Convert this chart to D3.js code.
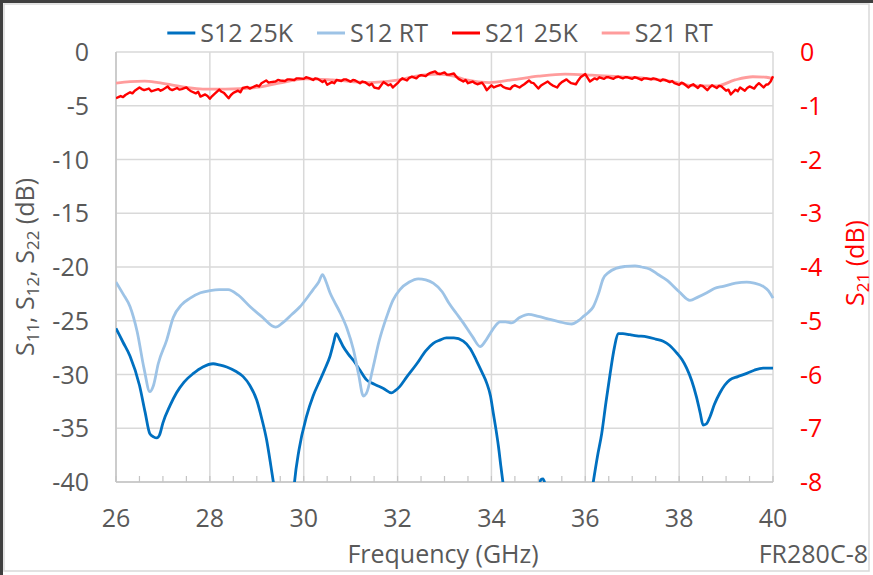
<!DOCTYPE html>
<html>
<head>
<meta charset="utf-8">
<script src="https://cdn.jsdelivr.net/npm/d3@7"></script>
<style>
  html, body { margin: 0; padding: 0; background: #ffffff; }
  svg { display: block; font-family: "Open Sans", "Noto Sans", sans-serif; }
</style>
</head>
<body>
<svg id="chart" width="873" height="575"></svg>
<script>
// ---- Data: [frequency GHz, dB] ----
const s12Cold = [
  [26.0,-25.7],[26.15,-27.0],[26.3,-28.3],[26.5,-31.0],[26.62,-33.5],[26.72,-35.5],[26.8,-35.8],
  [26.87,-35.9],[26.93,-35.6],[27.0,-34.5],[27.15,-32.9],[27.29,-31.7],[27.45,-30.7],[27.65,-29.9],
  [27.85,-29.3],[28.07,-29.0],[28.2,-29.1],[28.36,-29.3],[28.55,-29.7],[28.71,-30.2],[28.85,-31.0],
  [29.0,-32.4],[29.1,-34.0],[29.21,-36.1],[29.3,-38.5],[29.36,-40.2],[29.45,-43],[29.6,-45],
  [29.75,-43],[29.8,-40.2],[29.9,-37.0],[30.06,-33.9],[30.2,-32.0],[30.35,-30.5],[30.45,-29.5],
  [30.56,-28.3],[30.64,-27.0],[30.69,-26.2],[30.76,-26.7],[30.84,-27.4],[30.95,-28.1],[31.06,-28.7],
  [31.2,-29.6],[31.34,-30.5],[31.45,-30.8],[31.55,-31.0],[31.7,-31.3],[31.87,-31.7],[31.95,-31.5],
  [32.05,-31.1],[32.2,-30.2],[32.41,-29.0],[32.6,-27.8],[32.76,-27.1],[32.9,-26.8],[33.04,-26.6],
  [33.2,-26.6],[33.4,-26.9],[33.55,-27.6],[33.68,-28.7],[33.8,-29.8],[33.9,-30.8],[33.98,-32.0],
  [34.04,-33.6],[34.1,-35.2],[34.15,-36.7],[34.2,-38.5],[34.25,-40.2],[34.4,-44],[34.7,-46],
  [35.0,-41],[35.05,-39.8],[35.1,-39.7],[35.15,-40.3],[35.4,-45],[35.8,-45],[36.1,-42],
  [36.17,-40.0],[36.26,-37.6],[36.35,-35.5],[36.44,-32.6],[36.53,-29.9],[36.62,-27.5],[36.7,-26.2],
  [36.8,-26.2],[36.95,-26.3],[37.1,-26.4],[37.31,-26.5],[37.5,-26.7],[37.66,-26.9],[37.8,-27.3],
  [37.95,-28.0],[38.06,-28.6],[38.16,-29.4],[38.27,-30.6],[38.37,-32.1],[38.45,-33.6],[38.51,-34.7],
  [38.58,-34.6],[38.66,-33.9],[38.75,-32.8],[38.87,-31.7],[38.97,-31.0],[39.08,-30.5],[39.25,-30.2],
  [39.44,-29.9],[39.6,-29.6],[39.79,-29.4],[39.9,-29.4],[40.0,-29.4]
];

const s12Room = [
  [26.0,-21.4],[26.15,-22.5],[26.3,-23.7],[26.45,-26.0],[26.6,-29.5],[26.72,-31.6],[26.8,-31.0],
  [26.9,-29.0],[27.08,-26.8],[27.22,-24.7],[27.4,-23.5],[27.58,-22.9],[27.8,-22.4],[28.0,-22.2],
  [28.2,-22.1],[28.39,-22.1],[28.6,-22.6],[28.86,-23.7],[29.1,-24.6],[29.4,-25.6],[29.55,-25.2],
  [29.75,-24.4],[29.92,-23.7],[30.05,-23.0],[30.2,-22.1],[30.32,-21.4],[30.4,-20.7],[30.47,-21.3],
  [30.56,-22.4],[30.65,-23.2],[30.77,-24.2],[30.92,-25.7],[31.06,-27.7],[31.17,-30.0],[31.27,-32.0],
  [31.33,-31.8],[31.48,-29.3],[31.6,-27.0],[31.77,-24.6],[31.9,-23.1],[32.05,-22.1],[32.25,-21.4],
  [32.44,-21.1],[32.6,-21.2],[32.76,-21.5],[32.95,-22.3],[33.1,-23.4],[33.25,-24.3],[33.4,-25.2],
  [33.6,-26.5],[33.76,-27.4],[33.87,-26.9],[33.97,-26.2],[34.08,-25.5],[34.18,-25.1],[34.3,-25.1],
  [34.43,-25.2],[34.6,-24.7],[34.79,-24.4],[35.0,-24.6],[35.18,-24.8],[35.45,-25.1],[35.71,-25.3],
  [35.85,-25.0],[35.96,-24.6],[36.07,-24.2],[36.17,-23.7],[36.28,-22.5],[36.38,-21.1],[36.5,-20.5],
  [36.67,-20.1],[36.85,-19.95],[37.06,-19.9],[37.2,-20.0],[37.38,-20.2],[37.55,-20.7],[37.73,-21.2],
  [38.0,-22.3],[38.23,-23.1],[38.4,-22.8],[38.59,-22.4],[38.75,-22.0],[38.94,-21.8],[39.2,-21.5],
  [39.44,-21.4],[39.6,-21.5],[39.79,-21.8],[39.9,-22.2],[40.0,-22.9]
];

const s21Cold = [
  [26.0,-0.86],[26.05,-0.84],[26.1,-0.82],[26.15,-0.84],[26.2,-0.80],[26.3,-0.75],[26.35,-0.77],
  [26.4,-0.72],[26.5,-0.66],[26.55,-0.69],[26.6,-0.71],[26.7,-0.68],[26.75,-0.73],[26.8,-0.72],
  [26.9,-0.69],[26.95,-0.72],[27.0,-0.70],[27.1,-0.64],[27.15,-0.69],[27.2,-0.71],[27.3,-0.67],
  [27.35,-0.70],[27.4,-0.69],[27.5,-0.66],[27.55,-0.70],[27.6,-0.73],[27.7,-0.77],[27.75,-0.74],
  [27.8,-0.83],[27.9,-0.79],[27.95,-0.82],[28.0,-0.87],[28.05,-0.82],[28.1,-0.78],[28.2,-0.70],
  [28.25,-0.74],[28.3,-0.76],[28.4,-0.86],[28.45,-0.80],[28.5,-0.76],[28.6,-0.72],[28.65,-0.75],
  [28.7,-0.67],[28.8,-0.65],[28.85,-0.68],[28.9,-0.66],[29.0,-0.62],[29.05,-0.64],[29.1,-0.58],
  [29.2,-0.53],[29.25,-0.57],[29.3,-0.56],[29.4,-0.55],[29.45,-0.52],[29.5,-0.53],[29.6,-0.54],
  [29.65,-0.51],[29.7,-0.51],[29.8,-0.52],[29.85,-0.49],[29.9,-0.49],[30.0,-0.50],[30.05,-0.47],
  [30.1,-0.48],[30.2,-0.52],[30.25,-0.49],[30.3,-0.50],[30.4,-0.56],[30.45,-0.53],[30.5,-0.61],
  [30.6,-0.56],[30.65,-0.58],[30.7,-0.52],[30.8,-0.54],[30.85,-0.51],[30.9,-0.51],[31.0,-0.55],
  [31.05,-0.52],[31.1,-0.53],[31.2,-0.58],[31.25,-0.55],[31.3,-0.56],[31.4,-0.62],[31.45,-0.59],
  [31.5,-0.66],[31.6,-0.68],[31.65,-0.62],[31.7,-0.56],[31.8,-0.62],[31.85,-0.60],[31.9,-0.66],
  [32.0,-0.58],[32.05,-0.53],[32.1,-0.49],[32.2,-0.53],[32.25,-0.48],[32.3,-0.46],[32.4,-0.49],
  [32.45,-0.45],[32.5,-0.43],[32.6,-0.45],[32.65,-0.41],[32.7,-0.39],[32.8,-0.36],[32.85,-0.40],
  [32.9,-0.41],[33.0,-0.38],[33.05,-0.42],[33.1,-0.42],[33.2,-0.40],[33.25,-0.46],[33.3,-0.50],
  [33.4,-0.55],[33.45,-0.52],[33.5,-0.58],[33.6,-0.55],[33.65,-0.58],[33.7,-0.60],[33.8,-0.57],
  [33.85,-0.63],[33.9,-0.71],[34.0,-0.62],[34.05,-0.66],[34.1,-0.64],[34.2,-0.61],[34.25,-0.65],
  [34.3,-0.67],[34.4,-0.69],[34.45,-0.64],[34.5,-0.62],[34.6,-0.66],[34.65,-0.63],[34.7,-0.60],
  [34.8,-0.53],[34.85,-0.57],[34.9,-0.58],[35.0,-0.68],[35.05,-0.63],[35.1,-0.60],[35.2,-0.55],
  [35.25,-0.59],[35.3,-0.62],[35.4,-0.66],[35.45,-0.60],[35.5,-0.56],[35.6,-0.51],[35.65,-0.55],
  [35.7,-0.58],[35.8,-0.60],[35.85,-0.53],[35.9,-0.47],[36.0,-0.41],[36.05,-0.48],[36.1,-0.55],
  [36.2,-0.49],[36.25,-0.51],[36.3,-0.47],[36.4,-0.50],[36.45,-0.47],[36.5,-0.47],[36.6,-0.50],
  [36.65,-0.47],[36.7,-0.46],[36.8,-0.49],[36.85,-0.47],[36.9,-0.47],[37.0,-0.50],[37.05,-0.47],
  [37.1,-0.48],[37.2,-0.52],[37.25,-0.49],[37.3,-0.49],[37.4,-0.51],[37.45,-0.49],[37.5,-0.50],
  [37.6,-0.54],[37.65,-0.51],[37.7,-0.52],[37.8,-0.56],[37.85,-0.54],[37.9,-0.58],[38.0,-0.61],
  [38.05,-0.57],[38.1,-0.59],[38.2,-0.66],[38.25,-0.62],[38.3,-0.60],[38.4,-0.67],[38.45,-0.62],
  [38.5,-0.63],[38.6,-0.71],[38.65,-0.66],[38.7,-0.62],[38.8,-0.67],[38.85,-0.63],[38.9,-0.64],
  [39.0,-0.72],[39.05,-0.70],[39.1,-0.79],[39.2,-0.70],[39.25,-0.73],[39.3,-0.66],[39.4,-0.72],
  [39.45,-0.67],[39.5,-0.64],[39.6,-0.68],[39.65,-0.62],[39.7,-0.58],[39.8,-0.66],[39.85,-0.61],
  [39.9,-0.60],[39.95,-0.55],[40.0,-0.45]
];

const s21Room = [
  [26.0,-0.58],[26.3,-0.55],[26.61,-0.54],[26.9,-0.57],[27.18,-0.61],[27.5,-0.66],[27.85,-0.69],
  [28.33,-0.69],[28.99,-0.66],[29.47,-0.58],[30.04,-0.50],[30.61,-0.52],[31.38,-0.57],[31.95,-0.53],
  [32.52,-0.43],[32.9,-0.41],[33.2,-0.45],[33.47,-0.52],[33.95,-0.57],[34.43,-0.52],[35.0,-0.45],
  [35.57,-0.41],[36.14,-0.43],[36.71,-0.46],[37.28,-0.49],[37.86,-0.55],[38.33,-0.63],[38.81,-0.63],
  [39.19,-0.52],[39.57,-0.46],[39.86,-0.47],[40.0,-0.50]
];

const xTicks = [26, 28, 30, 32, 34, 36, 38, 40];
const xMinorTicks = d3.range(26, 40.001, 0.5);
const leftTicks = [0, -5, -10, -15, -20, -25, -30, -35, -40];
const rightTicks = [0, -1, -2, -3, -4, -5, -6, -7, -8];

const legendItems = [
  { label: "S12 25K", color: "#0070C0" },
  { label: "S12 RT",  color: "#9DC3E6" },
  { label: "S21 25K", color: "#FF0000" },
  { label: "S21 RT",  color: "#FF9C9C" }
];

// ---- Layout ----
const W = 873, H = 575;
const plot = { left: 116, right: 773, top: 52, bottom: 482 };
const textColor = "#595959";
const gridColor = "#D9D9D9";
const fontSize = 25;

const svg = d3.select("#chart");

const x = d3.scaleLinear().domain([26, 40]).range([plot.left, plot.right]);
const yL = d3.scaleLinear().domain([-40, 0]).range([plot.bottom, plot.top]);
const yR = d3.scaleLinear().domain([-8, 0]).range([plot.bottom, plot.top]);

// Chart frame
svg.append("rect").attr("x", 4).attr("y", 4).attr("width", W - 8).attr("height", H - 8)
  .attr("fill", "none").attr("stroke", "#D9D9D9").attr("stroke-width", 1.5);
svg.append("line").attr("x1", 0).attr("x2", W).attr("y1", 1.5).attr("y2", 1.5)
  .attr("stroke", "#3F3F3F").attr("stroke-width", 3);
svg.append("line").attr("x1", 1.5).attr("x2", 1.5).attr("y1", 0).attr("y2", H)
  .attr("stroke", "#3F3F3F").attr("stroke-width", 3);

// Gridlines
const grid = svg.append("g");
grid.selectAll(".hg").data(leftTicks).join("line")
  .attr("x1", plot.left).attr("x2", plot.right)
  .attr("y1", d => yL(d)).attr("y2", d => yL(d))
  .attr("stroke", gridColor).attr("stroke-width", 1.5);
grid.selectAll(".vg").data(xTicks).join("line")
  .attr("y1", plot.top).attr("y2", plot.bottom)
  .attr("x1", d => x(d)).attr("x2", d => x(d))
  .attr("stroke", gridColor).attr("stroke-width", 1.5);

// Axis lines + minor ticks on the frequency axis
svg.append("line").attr("x1", plot.left).attr("x2", plot.left)
  .attr("y1", plot.top).attr("y2", plot.bottom).attr("stroke", "#C4C4C4").attr("stroke-width", 1.5);
svg.append("line").attr("x1", plot.left).attr("x2", plot.right)
  .attr("y1", plot.bottom).attr("y2", plot.bottom).attr("stroke", "#C4C4C4").attr("stroke-width", 1.5);
svg.append("g").selectAll("line").data(xMinorTicks).join("line")
  .attr("x1", d => x(d)).attr("x2", d => x(d))
  .attr("y1", plot.bottom).attr("y2", plot.bottom - 6)
  .attr("stroke", "#C4C4C4").attr("stroke-width", 1.2);

// Tick labels
svg.append("g").selectAll("text").data(leftTicks).join("text")
  .attr("x", 89).attr("y", d => yL(d)).attr("dy", "0.36em")
  .attr("text-anchor", "end").attr("font-size", fontSize).attr("fill", textColor)
  .text(d => d);
svg.append("g").selectAll("text").data(rightTicks).join("text")
  .attr("x", 800).attr("y", d => yR(d)).attr("dy", "0.36em")
  .attr("text-anchor", "start").attr("font-size", fontSize).attr("fill", "#FF0000")
  .text(d => d);
svg.append("g").selectAll("text").data(xTicks).join("text")
  .attr("x", d => x(d)).attr("y", 527)
  .attr("text-anchor", "middle").attr("font-size", fontSize).attr("fill", textColor)
  .text(d => d);

// Axis titles
svg.append("text").attr("x", 443).attr("y", 563)
  .attr("text-anchor", "middle").attr("font-size", fontSize).attr("fill", textColor)
  .text("Frequency (GHz)");
svg.append("text").attr("x", 868).attr("y", 563)
  .attr("text-anchor", "end").attr("font-size", fontSize).attr("fill", textColor)
  .text("FR280C-8");

function subTitle(parent, parts, color) {
  const t = parent.append("text").attr("text-anchor", "middle")
    .attr("font-size", fontSize).attr("fill", color);
  parts.forEach(p => {
    const s = t.append("tspan").text(p.t);
    if (p.sub) s.attr("font-size", 17).attr("dy", 5);
    else if (p.after) s.attr("dy", -5);
  });
  return t;
}
const leftTitle = svg.append("g").attr("transform", `translate(34,${(plot.top + plot.bottom) / 2}) rotate(-90)`);
subTitle(leftTitle, [
  { t: "S" }, { t: "11", sub: true }, { t: ", S", after: true }, { t: "12", sub: true },
  { t: ", S", after: true }, { t: "22", sub: true }, { t: " (dB)", after: true }
], textColor);
const rightTitle = svg.append("g").attr("transform", `translate(864,${(plot.top + plot.bottom) / 2 - 4}) rotate(-90)`);
subTitle(rightTitle, [{ t: "S" }, { t: "21", sub: true }, { t: " (dB)", after: true }], "#FF0000");

// Series
svg.append("clipPath").attr("id", "plotClip").append("rect")
  .attr("x", plot.left).attr("y", plot.top - 2)
  .attr("width", plot.right - plot.left + 2).attr("height", plot.bottom - plot.top + 2);
const series = svg.append("g").attr("clip-path", "url(#plotClip)");

const lineL = d3.line().x(d => x(d[0])).y(d => yL(d[1])).curve(d3.curveMonotoneX);
const lineR = d3.line().x(d => x(d[0])).y(d => yR(d[1]));
const lineRsmooth = d3.line().x(d => x(d[0])).y(d => yR(d[1])).curve(d3.curveMonotoneX);

series.append("path").attr("d", lineL(s12Cold)).attr("fill", "none")
  .attr("stroke", "#0070C0").attr("stroke-width", 2.8).attr("stroke-linejoin", "round");
series.append("path").attr("d", lineL(s12Room)).attr("fill", "none")
  .attr("stroke", "#9DC3E6").attr("stroke-width", 2.8).attr("stroke-linejoin", "round");
series.append("path").attr("d", lineRsmooth(s21Room)).attr("fill", "none")
  .attr("stroke", "#FF9C9C").attr("stroke-width", 2.8).attr("stroke-linejoin", "round");
series.append("path").attr("d", lineR(s21Cold)).attr("fill", "none")
  .attr("stroke", "#FF0000").attr("stroke-width", 2.4).attr("stroke-linejoin", "round");

// Legend
const legend = svg.append("g");
let cursor = 0;
legendItems.forEach(item => {
  const g = legend.append("g").attr("transform", `translate(${cursor},0)`);
  g.append("line").attr("x1", 0).attr("x2", 28).attr("y1", 0).attr("y2", 0)
    .attr("stroke", item.color).attr("stroke-width", 3);
  const t = g.append("text").attr("x", 33).attr("dy", "0.36em")
    .attr("font-size", fontSize).attr("fill", textColor).text(item.label);
  cursor += 33 + t.node().getComputedTextLength() + 24;
});
const legendWidth = cursor - 24;
legend.attr("transform", `translate(${440 - legendWidth / 2},33)`);
</script>
</body>
</html>
